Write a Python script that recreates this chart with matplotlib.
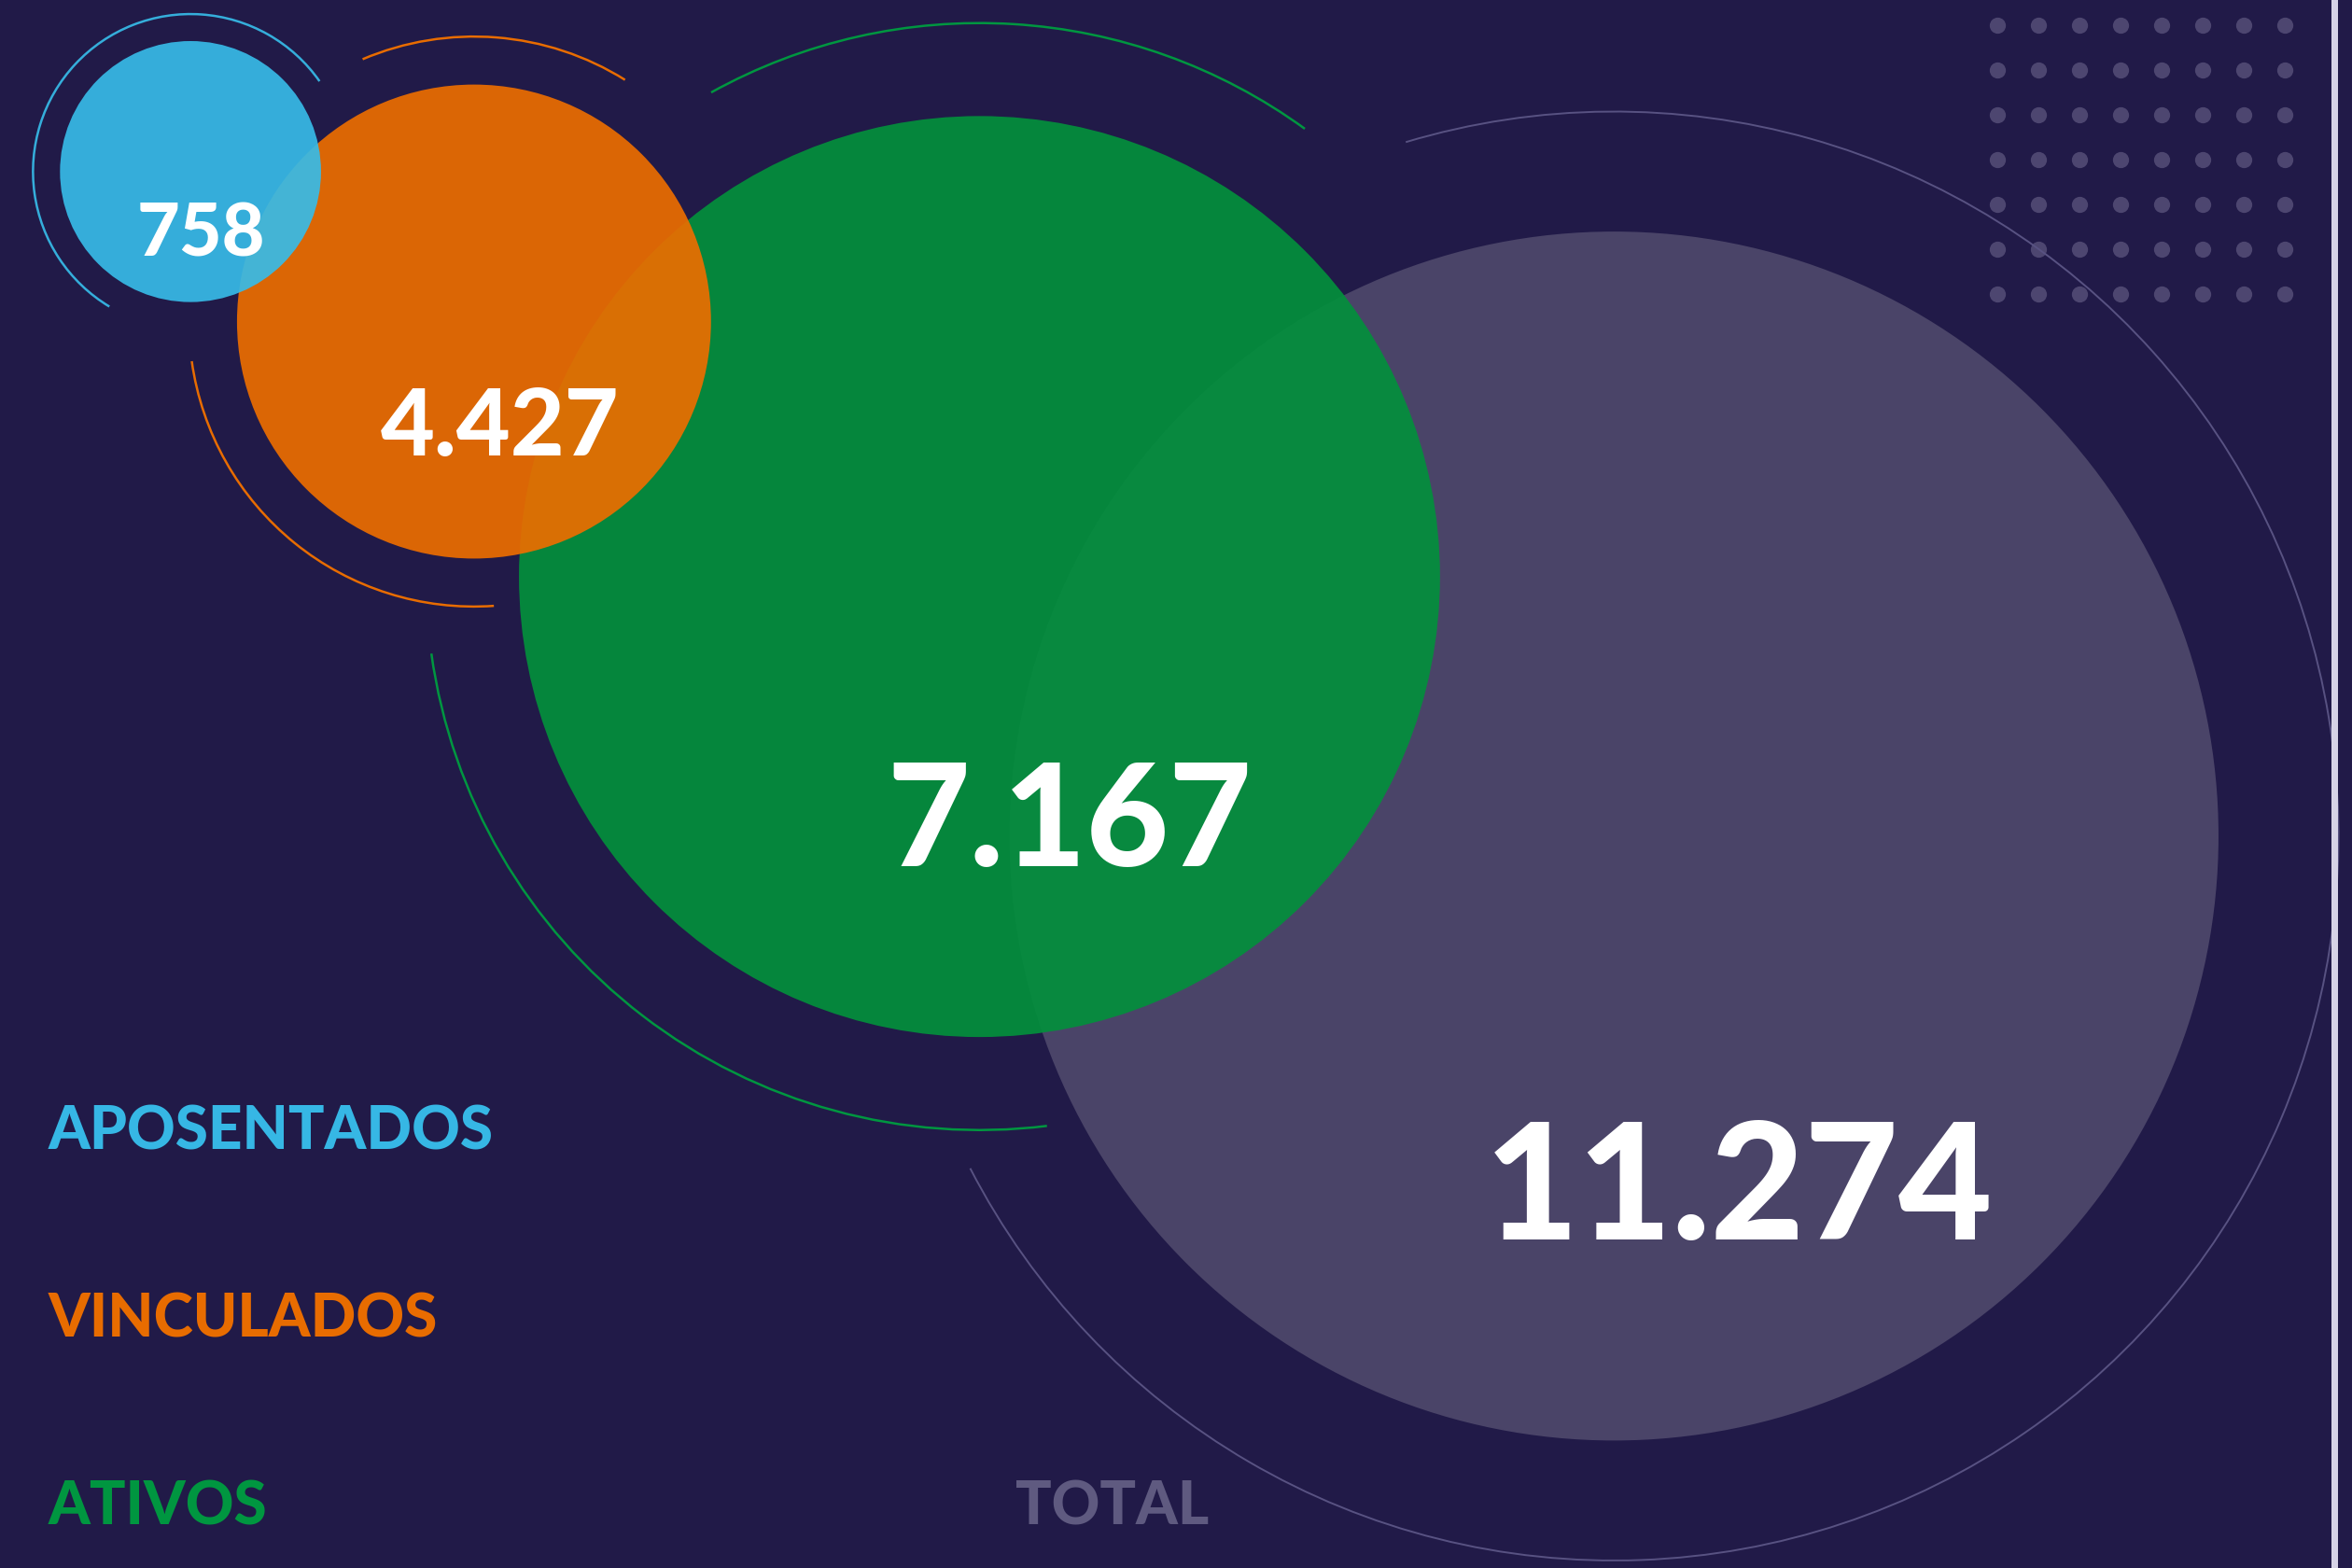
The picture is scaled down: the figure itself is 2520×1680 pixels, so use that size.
import numpy as np
import matplotlib
matplotlib.use("Agg")
from matplotlib import pyplot as plt
from matplotlib.patches import Circle, Arc

# dados
categorias = ["APOSENTADOS", "VINCULADOS", "ATIVOS", "TOTAL"]
valores = [758, 4427, 7167, 11274]
rotulos = ["758", "4.427", "7.167", "11.274"]

# layout (coordenadas em px da imagem 1568x1046)
centros = [(127, 115), (316, 215), (653, 385), (1076, 558)]
raios = [87, 158, 307, 403]
cores = ["#37bbe8", "#ec6d00", "#03903c", "#4a4468"]
alfas = [0.92, 0.92, 0.92, 1.0]
cores_texto = ["#36b7e5", "#e86c00", "#009640", "#5f5a80"]
tam_num = [57, 72, 110, 125]
pos_num = [(134, 157), (333, 286), (713, 550), (1159, 795)]
pos_leg = [(32, 755), (32, 880), (32, 1005), (677, 1005)]

# arcos decorativos: (indice do circulo, raio, ang1, ang2)
arcos = [
    (0, 105, 121, 325),
    (1, 190, 247, 302),
    (1, 190, 86, 172),
    (2, 369, 241, 306),
    (2, 369, 83, 172),
    (3, 483, -106.7, 152.7),
]
cores_arco = ["#35aedb", "#e86c00", "#e86c00", "#009640", "#009640", "#585282"]

fundo = "#211a48"
W, H = 1568, 1046

fig = plt.figure(figsize=(25.2, 16.81), dpi=100)
fig.patch.set_facecolor(fundo)
ax = fig.add_axes([0, 0, 1, 1])
ax.set_facecolor(fundo)
ax.set_xlim(0, W)
ax.set_ylim(H, 0)
ax.axis("off")

# pontinhos no canto
xs = 1331.7 + 27.38 * np.arange(8)
ys = 17.6 + 29.87 * np.arange(7)
gx, gy = np.meshgrid(xs, ys)
ax.scatter(gx.ravel(), gy.ravel(), s=155, color="#4d4670", linewidths=0, zorder=1)

# arcos
for (i, r, a1, a2), c in zip(arcos, cores_arco):
    lw = 1.4 if i == 3 else 1.8
    ax.add_patch(Arc(centros[i], 2 * r, 2 * r, theta1=a1, theta2=a2,
                     color=c, lw=lw, zorder=2))

# circulos (do maior para o menor)
for i in [3, 2, 1, 0]:
    ax.add_patch(Circle(centros[i], raios[i], color=cores[i], alpha=alfas[i],
                        linewidth=0, zorder=3 + (3 - i)))

for i in range(4):
    ax.text(pos_num[i][0], pos_num[i][1], rotulos[i], color="white",
            fontsize=tam_num[i], fontfamily="Lato", fontweight="black",
            ha="center", va="center", zorder=10)
    ax.text(pos_leg[i][0], pos_leg[i][1], categorias[i], color=cores_texto[i],
            fontsize=46, fontfamily="Lato", fontweight="black",
            ha="left", va="center", zorder=10)

# borda da direita
ax.axvspan(1554.2, 1558.4, color="#d6d3e6", linewidth=0, zorder=30)

fig.savefig("out.png", dpi=100, facecolor=fundo)
